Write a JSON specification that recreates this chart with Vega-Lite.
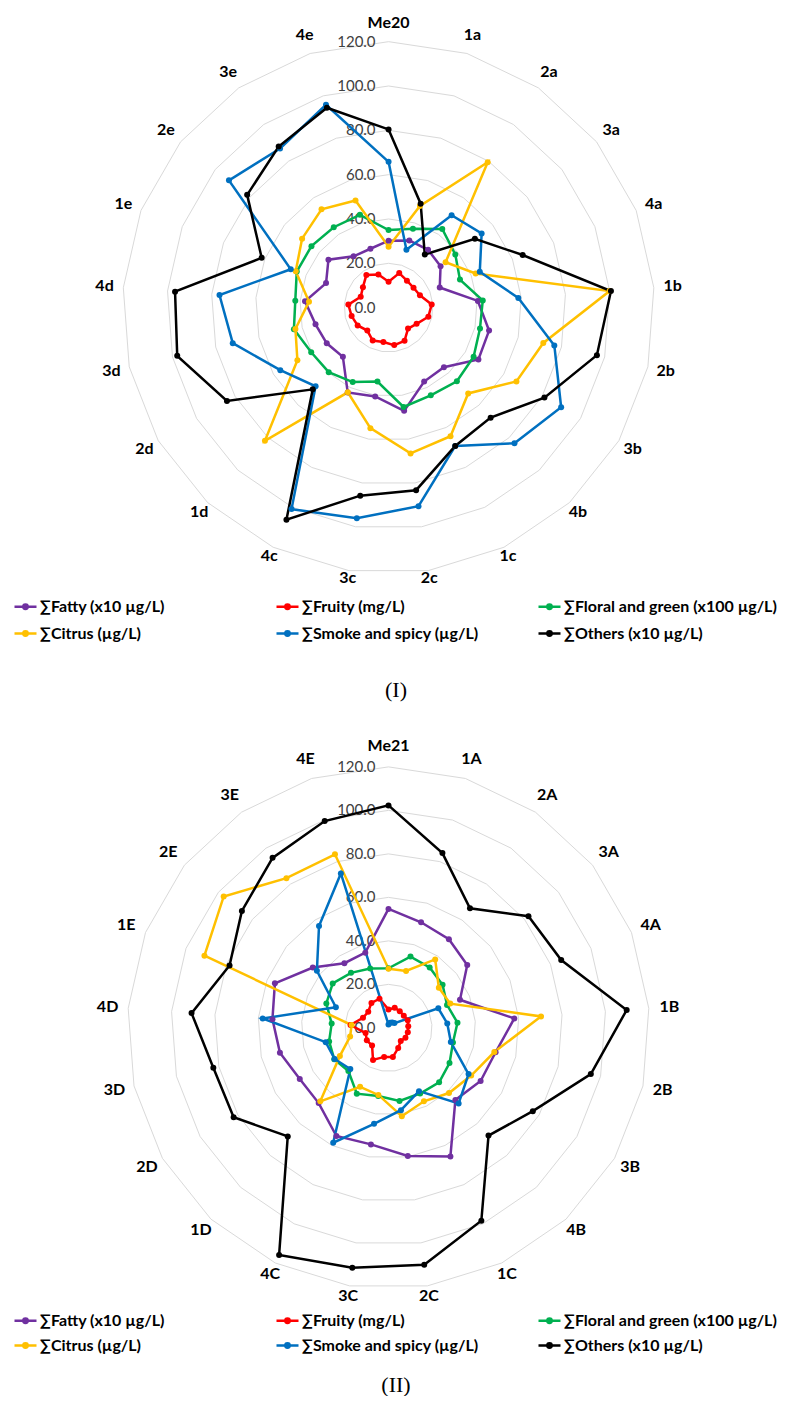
{
  "$schema": "https://vega.github.io/schema/vega-lite/v6.json",
  "background": "white",
  "padding": 0,
  "spacing": 20,
  "config": {"view": {"stroke": null}},
  "datasets": {
    "me20": [
      {"k":0,"axis":"Me20","Fatty":30.2,"Fruity":11.7,"Floral":35.0,"Citrus":27.5,"Smoke":65.8,"Others":80.4},
      {"k":1,"axis":"1a","Fatty":31.7,"Fruity":16.3,"Floral":37.3,"Citrus":48.0,"Smoke":27.3,"Others":49.1},
      {"k":2,"axis":"2a","Fatty":31.6,"Fruity":14.7,"Floral":43.0,"Citrus":79.4,"Smoke":50.5,"Others":29.0},
      {"k":3,"axis":"3a","Fatty":30.0,"Fruity":14.4,"Floral":38.5,"Citrus":32.9,"Smoke":53.7,"Others":49.8},
      {"k":4,"axis":"4a","Fatty":24.8,"Fruity":15.2,"Floral":34.6,"Citrus":42.2,"Smoke":44.2,"Others":65.0},
      {"k":5,"axis":"1b","Fatty":40.4,"Fruity":19.5,"Floral":42.6,"Citrus":100.0,"Smoke":58.7,"Others":100.6},
      {"k":6,"axis":"2b","Fatty":46.5,"Fruity":18.4,"Floral":42.3,"Citrus":71.6,"Smoke":76.7,"Others":96.4},
      {"k":7,"axis":"3b","Fatty":46.8,"Fruity":14.6,"Floral":44.3,"Citrus":66.6,"Smoke":89.9,"Others":81.2},
      {"k":8,"axis":"4b","Fatty":36.7,"Fruity":12.9,"Floral":45.3,"Citrus":52.8,"Smoke":83.5,"Others":67.7},
      {"k":9,"axis":"1c","Fatty":37.0,"Fruity":16.6,"Floral":43.9,"Citrus":64.4,"Smoke":69.3,"Others":69.3},
      {"k":10,"axis":"2c","Fatty":47.1,"Fruity":17.1,"Floral":45.3,"Citrus":66.5,"Smoke":90.6,"Others":83.3},
      {"k":11,"axis":"3c","Fatty":40.5,"Fruity":15.7,"Floral":33.7,"Citrus":55.0,"Smoke":96.1,"Others":85.8},
      {"k":12,"axis":"4c","Fatty":42.5,"Fruity":16.5,"Floral":37.3,"Citrus":42.4,"Smoke":100.9,"Others":106.2},
      {"k":13,"axis":"1d","Fatty":30.3,"Fruity":14.1,"Floral":39.7,"Citrus":82.0,"Smoke":48.4,"Others":50.3},
      {"k":14,"axis":"2d","Fatty":32.2,"Fruity":16.1,"Floral":40.3,"Citrus":47.5,"Smoke":56.4,"Others":84.2},
      {"k":15,"axis":"3d","Fatty":33.8,"Fruity":17.1,"Floral":43.8,"Citrus":43.1,"Smoke":72.1,"Others":97.8},
      {"k":16,"axis":"4d","Fatty":37.8,"Fruity":18.2,"Floral":42.2,"Citrus":36.0,"Smoke":76.5,"Others":96.6},
      {"k":17,"axis":"1e","Fatty":30.3,"Fruity":13.5,"Floral":44.5,"Citrus":45.0,"Smoke":47.4,"Others":61.5},
      {"k":18,"axis":"2e","Fatty":34.7,"Fruity":14.8,"Floral":44.5,"Citrus":49.9,"Smoke":92.1,"Others":81.6},
      {"k":19,"axis":"3e","Fatty":28.0,"Fruity":17.8,"Floral":43.9,"Citrus":53.7,"Smoke":86.9,"Others":88.0},
      {"k":20,"axis":"4e","Fatty":27.8,"Fruity":15.6,"Floral":43.8,"Citrus":50.6,"Smoke":95.8,"Others":94.4}
    ],
    "me21": [
      {"k":0,"axis":"Me21","Fatty":54.7,"Fruity":8.4,"Floral":27.4,"Citrus":27.2,"Smoke":1.5,"Others":102.3},
      {"k":1,"axis":"1A","Fatty":50.8,"Fruity":9.7,"Floral":34.3,"Citrus":27.4,"Smoke":2.5,"Others":84.1},
      {"k":2,"axis":"2A","Fatty":49.3,"Fruity":9.2,"Floral":33.6,"Citrus":38.1,"Smoke":3.0,"Others":66.5},
      {"k":3,"axis":"3A","Fatty":46.3,"Fruity":9.0,"Floral":31.8,"Citrus":29.6,"Smoke":3.5,"Others":82.3},
      {"k":4,"axis":"4A","Fatty":35.3,"Fruity":9.5,"Floral":28.9,"Citrus":30.5,"Smoke":24.6,"Others":85.3},
      {"k":5,"axis":"1B","Fatty":58.0,"Fruity":9.1,"Floral":31.8,"Citrus":70.3,"Smoke":27.1,"Others":109.8},
      {"k":6,"axis":"2B","Fatty":50.5,"Fruity":9.1,"Floral":30.4,"Citrus":49.9,"Smoke":29.4,"Others":95.4},
      {"k":7,"axis":"3B","Fatty":48.9,"Fruity":9.0,"Floral":32.4,"Citrus":43.9,"Smoke":42.5,"Others":76.6},
      {"k":8,"axis":"4B","Fatty":45.2,"Fruity":8.3,"Floral":34.2,"Citrus":40.9,"Smoke":47.4,"Others":67.6},
      {"k":9,"axis":"1C","Fatty":65.6,"Fruity":10.3,"Floral":33.5,"Citrus":37.5,"Smoke":32.3,"Others":98.4},
      {"k":10,"axis":"2C","Fatty":59.6,"Fruity":13.5,"Floral":34.0,"Citrus":41.1,"Smoke":38.3,"Others":110.2},
      {"k":11,"axis":"3C","Fatty":54.2,"Fruity":13.5,"Floral":31.7,"Citrus":31.2,"Smoke":44.6,"Others":111.6},
      {"k":12,"axis":"4C","Fatty":55.2,"Fruity":16.4,"Floral":33.6,"Citrus":30.1,"Smoke":58.6,"Others":115.9},
      {"k":13,"axis":"1D","Fatty":47.2,"Fruity":11.1,"Floral":27.1,"Citrus":46.1,"Smoke":25.8,"Others":68.1},
      {"k":14,"axis":"2D","Fatty":47.1,"Fruity":11.5,"Floral":28.8,"Citrus":25.8,"Smoke":28.6,"Others":82.2},
      {"k":15,"axis":"3D","Fatty":51.2,"Fruity":10.8,"Floral":28.0,"Citrus":18.1,"Smoke":29.6,"Others":82.6},
      {"k":16,"axis":"4D","Fatty":53.5,"Fruity":17.5,"Floral":26.2,"Citrus":17.0,"Smoke":58.0,"Others":90.8},
      {"k":17,"axis":"1E","Fatty":56.1,"Fruity":12.6,"Floral":30.7,"Citrus":90.9,"Smoke":26.0,"Others":78.5},
      {"k":18,"axis":"2E","Fatty":44.5,"Fruity":11.9,"Floral":32.8,"Citrus":96.9,"Smoke":42.1,"Others":86.2},
      {"k":19,"axis":"3E","Fatty":36.0,"Fruity":13.9,"Floral":30.6,"Citrus":83.3,"Smoke":56.7,"Others":94.6},
      {"k":20,"axis":"4E","Fatty":36.2,"Fruity":14.0,"Floral":28.6,"Citrus":83.5,"Smoke":74.3,"Others":99.5}
    ],
    "levels": [
      {"level":0},{"level":20},{"level":40},{"level":60},{"level":80},{"level":100},{"level":120}
    ],
    "grid": [
      {"level":20,"k":[0,1,2,3,4,5,6,7,8,9,10,11,12,13,14,15,16,17,18,19,20]},
      {"level":40,"k":[0,1,2,3,4,5,6,7,8,9,10,11,12,13,14,15,16,17,18,19,20]},
      {"level":60,"k":[0,1,2,3,4,5,6,7,8,9,10,11,12,13,14,15,16,17,18,19,20]},
      {"level":80,"k":[0,1,2,3,4,5,6,7,8,9,10,11,12,13,14,15,16,17,18,19,20]},
      {"level":100,"k":[0,1,2,3,4,5,6,7,8,9,10,11,12,13,14,15,16,17,18,19,20]},
      {"level":120,"k":[0,1,2,3,4,5,6,7,8,9,10,11,12,13,14,15,16,17,18,19,20]}
    ]
  },
  "resolve": {
    "scale": {"x": "independent", "y": "independent", "color": "independent"},
    "legend": {"color": "independent"}
  },
  "vconcat": [
    {
      "width": 792,
      "height": 590,
      "title": {"text": "(I)", "orient": "bottom", "anchor": "middle", "font": "Liberation Serif", "fontSize": 22, "fontWeight": "normal", "color": "black", "offset": 38},
      "layer": [
        {
          "data": {"name": "grid"},
          "transform": [
            {"flatten": ["k"]},
            {"calculate": "datum.level*sin(datum.k*2*PI/21)", "as": "gx"},
            {"calculate": "datum.level*cos(datum.k*2*PI/21)", "as": "gy"}
          ],
          "mark": {"type": "line", "interpolate": "linear-closed", "stroke": "#d9d9d9", "strokeWidth": 1},
          "encoding": {
            "x": {"field": "gx", "type": "quantitative", "scale": {"domain": [-175.3, 182.0], "nice": false, "zero": false}, "axis": null},
            "y": {"field": "gy", "type": "quantitative", "scale": {"domain": [-127.4, 138.8], "nice": false, "zero": false}, "axis": null},
            "detail": {"field": "level", "type": "nominal"},
            "order": {"field": "k", "type": "quantitative"}
          }
        },
        {
          "data": {"name": "levels"},
          "mark": {"type": "text", "align": "right", "baseline": "middle", "dx": -13, "font": "Lato", "fontSize": 15, "color": "#404040"},
          "encoding": {
            "x": {"datum": 0, "type": "quantitative"},
            "y": {"field": "level", "type": "quantitative"},
            "text": {"field": "level", "type": "quantitative", "format": ".1f"}
          }
        },
        {
          "data": {"name": "me20"},
          "transform": [
            {"calculate": "128.5 - 5.3*pow(max(0, -cos(datum.k*2*PI/21)), 2)", "as": "lr"},
            {"calculate": "datum.lr*sin(datum.k*2*PI/21)", "as": "lx"},
            {"calculate": "datum.lr*cos(datum.k*2*PI/21)", "as": "ly"}
          ],
          "mark": {"type": "text", "align": "center", "baseline": "middle", "font": "Lato", "fontSize": 16, "fontWeight": "bold", "color": "black"},
          "encoding": {
            "x": {"field": "lx", "type": "quantitative"},
            "y": {"field": "ly", "type": "quantitative"},
            "text": {"field": "axis", "type": "nominal"}
          }
        },
        {
          "data": {"name": "me20"},
          "transform": [
            {"fold": ["Fatty", "Fruity", "Floral", "Citrus", "Smoke", "Others"], "as": ["series", "value"]},
            {"calculate": "datum.value*sin(datum.k*2*PI/21)", "as": "px"},
            {"calculate": "datum.value*cos(datum.k*2*PI/21)", "as": "py"}
          ],
          "layer": [
            {
              "mark": {"type": "line", "interpolate": "linear-closed", "strokeWidth": 2.5},
              "encoding": {
                "x": {"field": "px", "type": "quantitative"},
                "y": {"field": "py", "type": "quantitative"},
                "color": {"field": "series", "type": "nominal", "scale": {"domain": ["Fatty", "Fruity", "Floral", "Citrus", "Smoke", "Others"], "range": ["#7030A0", "#FF0000", "#00B050", "#FFC000", "#0070C0", "#000000"]}},
                "order": {"field": "k", "type": "quantitative"}
              }
            },
            {
              "mark": {"type": "point", "filled": true, "size": 36, "opacity": 1},
              "encoding": {
                "x": {"field": "px", "type": "quantitative"},
                "y": {"field": "py", "type": "quantitative"},
                "color": {
                  "field": "series", "type": "nominal",
                  "scale": {"domain": ["Fatty", "Fruity", "Floral", "Citrus", "Smoke", "Others"], "range": ["#7030A0", "#FF0000", "#00B050", "#FFC000", "#0070C0", "#000000"]},
                  "legend": {
                    "orient": "none", "legendX": 13, "legendY": 594, "title": null, "columns": 3, "direction": "horizontal", "gridAlign": "all",
                    "columnPadding": 18, "rowPadding": 6, "padding": 0,
                    "symbolType": "M-1,0L1,0M0.2,0A0.2,0.2 0 1,1 -0.2,0A0.2,0.2 0 1,1 0.2,0M0.06,0A0.06,0.06 0 1,1 -0.06,0A0.06,0.06 0 1,1 0.06,0",
                    "symbolSize": 484, "symbolStrokeWidth": 2.5, "symbolOpacity": 1,
                    "labelFont": "Lato", "labelFontSize": 16, "labelFontWeight": "bold", "labelColor": "black", "labelOffset": 2, "labelLimit": 400,
                    "labelExpr": "datum.label == 'Fatty' ? '∑Fatty (x10 µg/L)' : datum.label == 'Fruity' ? '∑Fruity (mg/L)' : datum.label == 'Floral' ? '∑Floral and green (x100 µg/L)' : datum.label == 'Citrus' ? '∑Citrus (µg/L)' : datum.label == 'Smoke' ? '∑Smoke and spicy (µg/L)' : '∑Others (x10 µg/L)'"
                  }
                }
              }
            }
          ]
        }
      ]
    },
    {
      "width": 792,
      "height": 585,
      "title": {"text": "(II)", "orient": "bottom", "anchor": "middle", "font": "Liberation Serif", "fontSize": 22, "fontWeight": "normal", "color": "black", "offset": 21},
      "layer": [
        {
          "data": {"name": "grid"},
          "transform": [
            {"flatten": ["k"]},
            {"calculate": "datum.level*sin(datum.k*2*PI/21)", "as": "gx"},
            {"calculate": "datum.level*cos(datum.k*2*PI/21)", "as": "gy"}
          ],
          "mark": {"type": "line", "interpolate": "linear-closed", "stroke": "#d9d9d9", "strokeWidth": 1},
          "encoding": {
            "x": {"field": "gx", "type": "quantitative", "scale": {"domain": [-178.6, 185.5], "nice": false, "zero": false}, "axis": null},
            "y": {"field": "gy", "type": "quantitative", "scale": {"domain": [-127.9, 141.1], "nice": false, "zero": false}, "axis": null},
            "detail": {"field": "level", "type": "nominal"},
            "order": {"field": "k", "type": "quantitative"}
          }
        },
        {
          "data": {"name": "levels"},
          "mark": {"type": "text", "align": "right", "baseline": "middle", "dx": -13, "font": "Lato", "fontSize": 15, "color": "#404040"},
          "encoding": {
            "x": {"datum": 0, "type": "quantitative"},
            "y": {"field": "level", "type": "quantitative"},
            "text": {"field": "level", "type": "quantitative", "format": ".1f"}
          }
        },
        {
          "data": {"name": "me21"},
          "transform": [
            {"calculate": "129.5 - 5*pow(max(0, -cos(datum.k*2*PI/21)), 2)", "as": "lr"},
            {"calculate": "datum.lr*sin(datum.k*2*PI/21)", "as": "lx"},
            {"calculate": "datum.lr*cos(datum.k*2*PI/21)", "as": "ly"}
          ],
          "mark": {"type": "text", "align": "center", "baseline": "middle", "font": "Lato", "fontSize": 16, "fontWeight": "bold", "color": "black"},
          "encoding": {
            "x": {"field": "lx", "type": "quantitative"},
            "y": {"field": "ly", "type": "quantitative"},
            "text": {"field": "axis", "type": "nominal"}
          }
        },
        {
          "data": {"name": "me21"},
          "transform": [
            {"fold": ["Fatty", "Fruity", "Floral", "Citrus", "Smoke", "Others"], "as": ["series", "value"]},
            {"calculate": "datum.value*sin(datum.k*2*PI/21)", "as": "px"},
            {"calculate": "datum.value*cos(datum.k*2*PI/21)", "as": "py"}
          ],
          "layer": [
            {
              "mark": {"type": "line", "interpolate": "linear-closed", "strokeWidth": 2.5},
              "encoding": {
                "x": {"field": "px", "type": "quantitative"},
                "y": {"field": "py", "type": "quantitative"},
                "color": {"field": "series", "type": "nominal", "scale": {"domain": ["Fatty", "Fruity", "Floral", "Citrus", "Smoke", "Others"], "range": ["#7030A0", "#FF0000", "#00B050", "#FFC000", "#0070C0", "#000000"]}},
                "order": {"field": "k", "type": "quantitative"}
              }
            },
            {
              "mark": {"type": "point", "filled": true, "size": 36, "opacity": 1},
              "encoding": {
                "x": {"field": "px", "type": "quantitative"},
                "y": {"field": "py", "type": "quantitative"},
                "color": {
                  "field": "series", "type": "nominal",
                  "scale": {"domain": ["Fatty", "Fruity", "Floral", "Citrus", "Smoke", "Others"], "range": ["#7030A0", "#FF0000", "#00B050", "#FFC000", "#0070C0", "#000000"]},
                  "legend": {
                    "orient": "none", "legendX": 13, "legendY": 587, "title": null, "columns": 3, "direction": "horizontal", "gridAlign": "all",
                    "columnPadding": 18, "rowPadding": 4, "padding": 0,
                    "symbolType": "M-1,0L1,0M0.2,0A0.2,0.2 0 1,1 -0.2,0A0.2,0.2 0 1,1 0.2,0M0.06,0A0.06,0.06 0 1,1 -0.06,0A0.06,0.06 0 1,1 0.06,0",
                    "symbolSize": 484, "symbolStrokeWidth": 2.5, "symbolOpacity": 1,
                    "labelFont": "Lato", "labelFontSize": 16, "labelFontWeight": "bold", "labelColor": "black", "labelOffset": 2, "labelLimit": 400,
                    "labelExpr": "datum.label == 'Fatty' ? '∑Fatty (x10 µg/L)' : datum.label == 'Fruity' ? '∑Fruity (mg/L)' : datum.label == 'Floral' ? '∑Floral and green (x100 µg/L)' : datum.label == 'Citrus' ? '∑Citrus (µg/L)' : datum.label == 'Smoke' ? '∑Smoke and spicy (µg/L)' : '∑Others (x10 µg/L)'"
                  }
                }
              }
            }
          ]
        }
      ]
    }
  ]
}
